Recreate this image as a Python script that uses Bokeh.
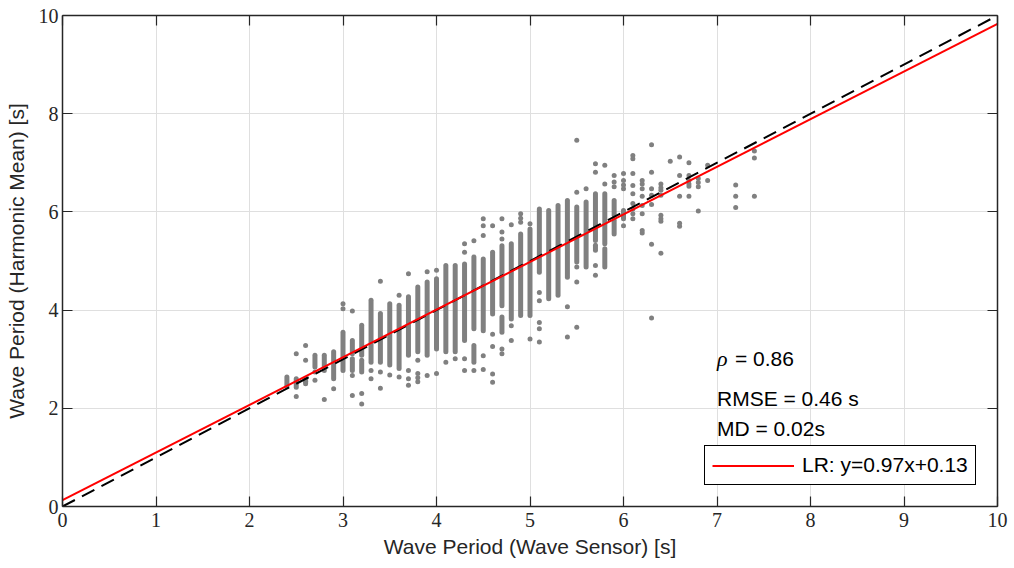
from bokeh.plotting import figure
from bokeh.models import Range1d, LinearAxis, FixedTicker, Legend, LegendItem, ColumnDataSource, CustomJSTickFormatter
from bokeh.core.properties import value
from bokeh.embed import file_html
from bokeh.resources import INLINE

# ---- data ----
# dense runs of overlapping points: column x, lower y, upper y
seg_x = [2.4, 2.5, 2.6, 2.7, 2.8, 2.9, 3.0, 3.1, 3.1, 3.2, 3.2, 3.3, 3.4, 3.5, 3.6,
         3.7, 3.8, 3.9, 4.0, 4.1, 4.2, 4.3, 4.4, 4.4, 4.5, 4.6, 4.7, 4.7, 4.8, 4.9,
         5.0, 5.1, 5.2, 5.3, 5.4, 5.5, 5.6, 5.7, 5.7, 5.8, 5.8, 5.9, 5.9, 6.0]
seg_lo = [2.45, 2.43, 2.50, 2.84, 2.77, 2.60, 2.77, 3.11, 2.77, 3.08, 2.74, 2.94, 2.94, 2.88, 2.81,
          3.08, 3.15, 3.08, 3.21, 3.15, 3.15, 3.38, 3.62, 2.94, 3.58, 3.92, 4.09, 3.55, 3.82, 3.89,
          3.89, 4.77, 4.23, 4.30, 4.67, 4.98, 4.88, 5.42, 5.22, 5.35, 4.88, 5.93, 5.55, 5.86]
seg_hi = [2.64, 2.60, 2.60, 3.08, 3.08, 3.15, 3.55, 3.38, 3.01, 3.69, 2.98, 4.20, 3.93, 4.13, 4.10,
          4.27, 4.47, 4.57, 4.64, 4.91, 4.91, 4.94, 5.08, 3.28, 5.04, 5.18, 5.31, 3.86, 5.35, 5.55,
          5.65, 6.06, 6.03, 6.13, 6.23, 6.10, 6.20, 6.37, 5.32, 6.37, 5.25, 6.23, 5.83, 6.03]

# isolated points
pt_x = [2.5, 2.5, 2.6, 2.6, 2.6, 2.7, 2.7, 2.8, 2.9, 3.0, 3.0, 3.1, 3.1, 3.1, 3.2, 3.2,
        3.3, 3.3, 3.4, 3.4, 3.4, 3.5, 3.6, 3.6, 3.7, 3.7, 3.7, 3.7, 3.8, 3.8, 3.8, 3.8,
        3.9, 3.9, 4.0, 4.0, 4.1, 4.2, 4.3, 4.3, 4.3, 4.3, 4.4, 4.4, 4.5, 4.5, 4.5, 4.5, 4.5,
        4.6, 4.6, 4.6, 4.6, 4.6, 4.7, 4.7, 4.7, 4.7, 4.7, 4.8, 4.8, 4.8, 4.9, 4.9, 4.9,
        5.0, 5.0, 5.1, 5.1, 5.1, 5.1, 5.1, 5.4, 5.4, 5.5, 5.5, 5.5, 5.5, 5.5, 5.6,
        5.7, 5.7, 5.7, 5.7, 5.8, 5.8, 5.9, 5.9, 5.9, 6.0, 6.0, 6.0, 6.0, 6.0,
        6.1, 6.1, 6.1, 6.1, 6.1, 6.1, 6.1, 6.1, 6.1,
        6.2, 6.2, 6.2, 6.2, 6.2, 6.2, 6.2, 6.2,
        6.3, 6.3, 6.3, 6.3, 6.3, 6.3, 6.3,
        6.4, 6.4, 6.4, 6.4, 6.4, 6.4, 6.4, 6.4,
        6.5, 6.6, 6.6, 6.6, 6.6, 6.6, 6.7, 6.7, 6.7, 6.7, 6.7, 6.7,
        6.8, 6.8, 6.8, 6.8, 6.9, 6.9, 7.2, 7.2, 7.2, 7.4, 7.4, 7.4]
pt_y = [3.11, 2.24, 3.28, 2.98, 2.55, 2.74, 2.57, 2.18, 2.40, 4.13, 4.03, 3.98, 2.67, 2.26, 2.30, 2.09,
        2.77, 2.60, 4.59, 2.74, 2.41, 2.68, 4.30, 2.64, 4.74, 2.77, 2.60, 2.47, 2.98, 2.71, 2.62, 2.54,
        4.78, 2.67, 4.81, 2.71, 2.94, 3.01, 5.35, 5.18, 3.01, 2.77, 5.41, 2.77, 5.86, 5.72, 5.52, 3.07, 2.79,
        5.72, 3.51, 3.26, 2.70, 2.53, 5.86, 5.59, 5.45, 3.21, 3.11, 5.74, 3.68, 3.38, 5.96, 5.87, 5.79,
        5.76, 3.41, 4.36, 4.19, 3.75, 3.62, 3.35, 4.07, 3.45, 7.46, 6.40, 4.88, 4.57, 3.65, 6.47,
        6.98, 6.81, 4.91, 4.71, 6.95, 6.57, 6.74, 6.61, 6.51, 6.78, 6.64, 6.55, 6.47, 5.72,
        7.15, 7.08, 6.78, 6.54, 6.37, 6.17, 6.06, 5.96, 5.86,
        6.64, 6.57, 6.47, 6.32, 6.13, 5.96, 5.62, 5.57,
        7.37, 6.81, 6.47, 6.34, 6.15, 5.34, 3.84,
        6.57, 6.49, 6.44, 6.34, 5.93, 5.86, 5.81, 5.16,
        7.03, 7.12, 6.74, 6.32, 5.77, 5.71, 7.00, 6.74, 6.64, 6.57, 6.52, 6.32,
        6.68, 6.60, 6.51, 6.02, 6.95, 6.64, 6.55, 6.32, 6.09, 7.24, 7.10, 6.32]

ref_x = [0, 10]
ref_y = [0, 10]
lr_slope = 0.97
lr_icpt = 0.13
lr_x = [0, 10]
lr_y = [lr_icpt + lr_slope * v for v in lr_x]

x_ticks = [0, 1, 2, 3, 4, 5, 6, 7, 8, 9, 10]
y_ticks = [0, 2, 4, 6, 8, 10]

stat_rho = "= 0.86"
stat_rmse = "RMSE = 0.46 s"
stat_md = "MD = 0.02s"
legend_label = "LR: y=0.97x+0.13"
x_label = "Wave Period (Wave Sensor) [s]"
y_label = "Wave Period (Harmonic Mean) [s]"

# ---- figure ----
AX = "#262626"
GRID = "#dfdfdf"
DOT = "#808080"
SANS = "Liberation Sans"
SERIF = "Liberation Serif"

p = figure(width=1010, height=562, x_range=Range1d(0, 10), y_range=Range1d(0, 10),
           output_backend="svg", toolbar_location=None,
           min_border_left=62, min_border_right=13, min_border_top=15, min_border_bottom=56)
p.background_fill_color = "white"
p.border_fill_color = "white"
p.outline_line_color = None

for ax, ticks in ((p.xaxis[0], x_ticks), (p.yaxis[0], y_ticks)):
    ax.ticker = FixedTicker(ticks=ticks)
    ax.major_tick_in = 10
    ax.major_tick_out = 0
    ax.minor_tick_line_color = None
    ax.axis_line_color = AX
    ax.axis_line_width = 1.5
    ax.major_tick_line_color = AX
    ax.major_tick_line_width = 1.2
    ax.major_label_text_font = SERIF
    ax.major_label_text_font_size = "20px"
    ax.major_label_text_color = AX
    ax.axis_label_text_font = SANS
    ax.axis_label_text_font_size = "21px"
    ax.axis_label_text_font_style = "normal"
    ax.axis_label_text_color = AX

p.xaxis.axis_label = x_label
p.yaxis.axis_label = y_label
p.xaxis.major_label_standoff = 6
p.yaxis.major_label_standoff = 4
p.xaxis.axis_label_standoff = 5
p.yaxis.axis_label_standoff = 8

for place, ticks in (("above", x_ticks), ("right", y_ticks)):
    a = LinearAxis(ticker=FixedTicker(ticks=ticks),
                   formatter=CustomJSTickFormatter(code="return ''"))
    a.major_tick_in = 10
    a.major_tick_out = 0
    a.minor_tick_line_color = None
    a.axis_line_color = AX
    a.axis_line_width = 1.5
    a.major_tick_line_color = AX
    a.major_tick_line_width = 1.2
    a.major_label_standoff = 0
    p.add_layout(a, place)

p.xgrid.ticker = FixedTicker(ticks=x_ticks)
p.ygrid.ticker = FixedTicker(ticks=y_ticks)
p.grid.grid_line_color = GRID
p.grid.grid_line_width = 1

# scatter
seg_src = ColumnDataSource(dict(x=seg_x, lo=seg_lo, hi=seg_hi))
p.segment(x0="x", y0="lo", x1="x", y1="hi", source=seg_src,
          line_color=DOT, line_width=5, line_cap="round")
p.scatter(pt_x, pt_y, size=5, color=DOT, line_color=None)

# 1:1 line and regression line
p.line(ref_x, ref_y, line_color="black", line_width=2, line_dash="14 8")
lr = p.line(lr_x, lr_y, line_color="#ff0000", line_width=2)

# statistics text
p.text(x=[7.0], y=[3.01], text=["ρ"], text_font=value(SERIF), text_font_style="italic",
       text_font_size=value("22px"), text_baseline="middle", text_align="left", text_color="black")
p.text(x=[7.0], y=[3.01], x_offset=18, text=[stat_rho], text_font=value(SANS),
       text_font_size=value("21px"), text_baseline="middle", text_align="left", text_color="black")
p.text(x=[7.0], y=[2.20], text=[stat_rmse], text_font=value(SANS),
       text_font_size=value("21px"), text_baseline="middle", text_align="left", text_color="black")
p.text(x=[7.0], y=[1.59], text=[stat_md], text_font=value(SANS),
       text_font_size=value("21px"), text_baseline="middle", text_align="left", text_color="black")

legend = Legend(items=[LegendItem(label=legend_label, renderers=[lr])], location=(642, 21))
legend.label_text_font = SANS
legend.label_text_font_size = "21px"
legend.label_text_color = "black"
legend.glyph_width = 82
legend.glyph_height = 21
legend.label_height = 21
legend.label_standoff = 8
legend.padding = 7
legend.margin = 0
legend.spacing = 0
legend.border_line_color = "black"
legend.border_line_width = 1
legend.border_line_alpha = 1
legend.background_fill_color = "white"
legend.background_fill_alpha = 1
p.add_layout(legend)

open("out.html", "w").write(file_html(p, INLINE))
